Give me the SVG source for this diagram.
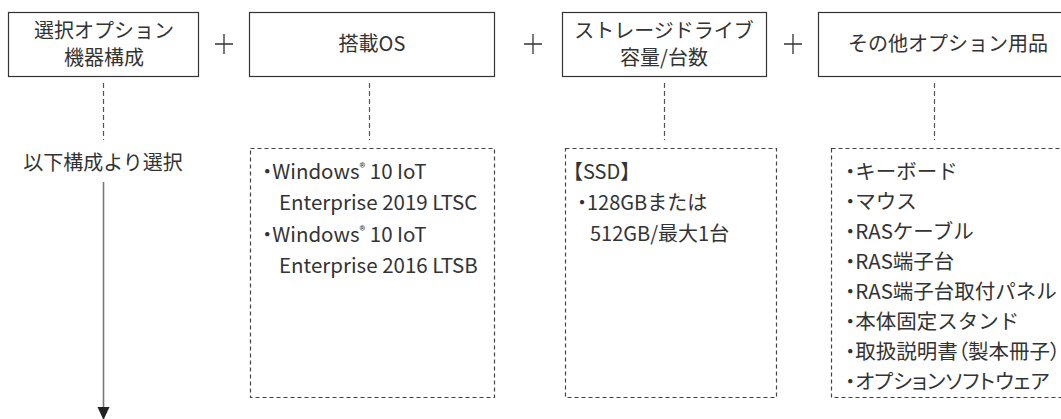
<svg xmlns="http://www.w3.org/2000/svg" width="1061" height="419" viewBox="0 0 1061 419">
<style>
text{font-family:"Noto Sans CJK JP","Noto Sans",sans-serif;font-size:20px;fill:#333}
.lat{font-size:20.5px}
.op{font-size:20.5px}
.box{fill:#fff;stroke:#333;stroke-width:1.2}
.dbox{fill:none;stroke:#444;stroke-width:1.2;stroke-dasharray:4 3}
.dl{stroke:#555;stroke-width:1.2;stroke-dasharray:5 3}
.plus{stroke:#333;stroke-width:1.3}
.mid{text-anchor:middle}
.sup{font-size:12px}
.palt{font-feature-settings:"palt"}
</style>
<g id="n1"><rect class="box" x="8.5" y="12.5" width="190" height="64"/><text class="mid" x="104" y="38">選択オプション</text><text class="mid" x="104" y="65">機器構成</text></g>
<g id="n2"><rect class="box" x="249.5" y="12.5" width="245" height="64"/><text class="mid" x="372" y="51">搭載OS</text></g>
<g id="n3"><rect class="box" x="562.5" y="12.5" width="204" height="64"/><text class="mid" x="664" y="38">ストレージドライブ</text><text class="mid" x="664" y="65">容量/台数</text></g>
<g id="n4"><rect class="box" x="818.5" y="12.5" width="260" height="64"/><text class="mid" x="948" y="51">その他オプション用品</text></g>
<g id="plus">
<path class="plus" d="M215 44H233M224 34V54"/>
<path class="plus" d="M524 44H542M533 34V54"/>
<path class="plus" d="M784 44H802M793 34V54"/>
</g>
<g id="sel"><text class="mid" x="103" y="170">以下構成より選択</text></g>
<g id="os"><rect class="dbox" x="250.5" y="148.5" width="244" height="249"/>
<text class="lat" x="262" y="179"><tspan class="palt">・</tspan>Windows<tspan class="sup" dy="-7">®</tspan><tspan dy="7"> 10 IoT</tspan></text>
<text class="lat" x="279" y="210">Enterprise 2019 LTSC</text>
<text class="lat" x="262" y="242"><tspan class="palt">・</tspan>Windows<tspan class="sup" dy="-7">®</tspan><tspan dy="7"> 10 IoT</tspan></text>
<text class="lat" x="279" y="273">Enterprise 2016 LTSB</text>
</g>
<g id="ssd"><rect class="dbox" x="565.5" y="148.5" width="211" height="249"/>
<text x="563" y="179">【SSD】</text>
<text x="577" y="210"><tspan class="palt">・</tspan>128GBまたは</text>
<text x="590" y="241">512GB/最大1台</text>
</g>
<g id="opt"><rect class="dbox" x="831.5" y="148.5" width="250" height="249"/>
<text class="op" x="845" y="179"><tspan class="palt">・</tspan>キーボード</text>
<text class="op" x="845" y="209"><tspan class="palt">・</tspan>マウス</text>
<text class="op" x="845" y="239"><tspan class="palt">・</tspan>RASケーブル</text>
<text class="op" x="845" y="269"><tspan class="palt">・</tspan>RAS端子台</text>
<text class="op" x="845" y="299"><tspan class="palt">・</tspan>RAS端子台取付パネル</text>
<text class="op" x="845" y="329"><tspan class="palt">・</tspan>本体固定スタンド</text>
<text class="op palt" x="845" y="359">・取扱説明書（製本冊子）</text>
<text class="op palt" x="845" y="389">・オプションソフトウェア</text>
</g>
<g id="connectors">
<path class="dl" d="M103.5 83V140"/>
<path class="dl" d="M369.5 83V140"/>
<path class="dl" d="M664.5 83V140"/>
<path class="dl" d="M934.5 83V140"/>
<path d="M103.5 182V408" stroke="#777" stroke-width="1.6"/>
<path d="M97.5 407L109.5 407L103.5 420Z" fill="#222"/>
</g>
</svg>
